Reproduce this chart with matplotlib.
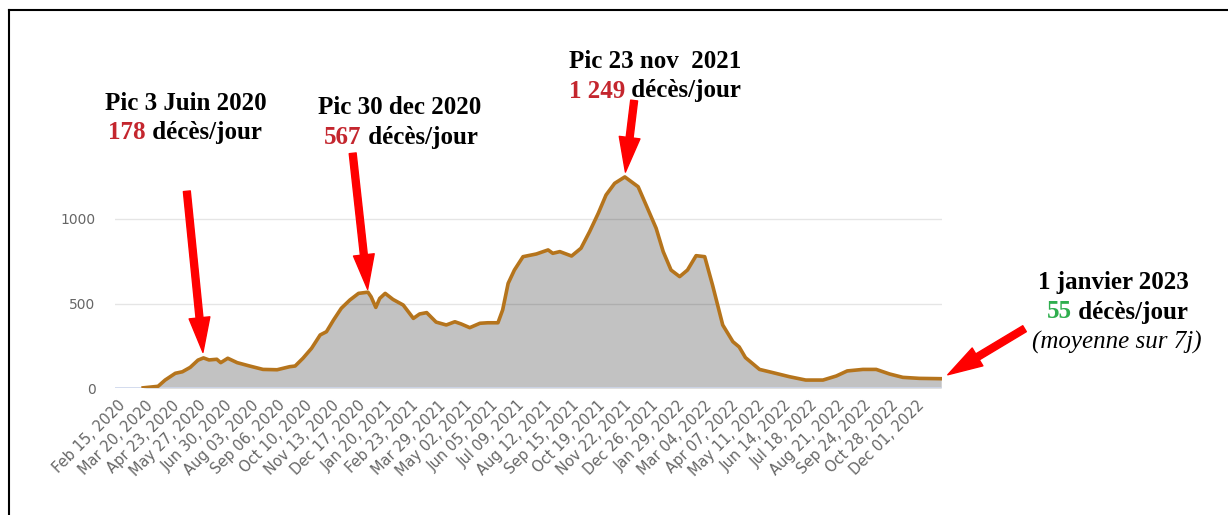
import matplotlib
matplotlib.use("Agg")
import matplotlib.pyplot as plt
from matplotlib.lines import Line2D
import pandas as pd

# 7-day average of daily deaths
dates = [
    "2020-03-18", "2020-04-06", "2020-04-15", "2020-04-28", "2020-05-07",
    "2020-05-17", "2020-05-27", "2020-06-03", "2020-06-10", "2020-06-20", "2020-06-25",
    "2020-07-04", "2020-07-16", "2020-08-01", "2020-08-18", "2020-09-05", "2020-09-21",
    "2020-09-28", "2020-10-08", "2020-10-19", "2020-10-30", "2020-11-07", "2020-11-16",
    "2020-11-26", "2020-12-07", "2020-12-18", "2020-12-30", "2021-01-03", "2021-01-09",
    "2021-01-14", "2021-01-21", "2021-01-31", "2021-02-13", "2021-02-26", "2021-03-06",
    "2021-03-15", "2021-03-27", "2021-04-09", "2021-04-20", "2021-04-28", "2021-05-09",
    "2021-05-22", "2021-06-01", "2021-06-14", "2021-06-20", "2021-06-27", "2021-07-05",
    "2021-07-16", "2021-08-02", "2021-08-17", "2021-08-23", "2021-09-01", "2021-09-16",
    "2021-09-28", "2021-10-09", "2021-10-20", "2021-10-30", "2021-11-10", "2021-11-23",
    "2021-12-10", "2021-12-22", "2022-01-02", "2022-01-11", "2022-01-21", "2022-02-01",
    "2022-02-11", "2022-02-22", "2022-03-05", "2022-03-15", "2022-03-28", "2022-04-10",
    "2022-04-18", "2022-04-26", "2022-05-14", "2022-05-31", "2022-06-21", "2022-07-12",
    "2022-08-03", "2022-08-20", "2022-09-03", "2022-09-23", "2022-10-10", "2022-10-27",
    "2022-11-13", "2022-12-04", "2023-01-01",
]
deaths_7j = [
    1, 10, 47, 87, 96,
    122, 165, 178, 166, 170, 150,
    176, 150, 130, 110, 108, 126,
    130, 176, 235, 314, 333, 402,
    472, 521, 560, 567, 540, 477,
    530, 560, 524, 491, 412, 438,
    446, 390, 373, 392, 379, 357,
    383, 386, 386, 462, 619, 698,
    777, 793, 817, 797, 807, 781,
    827, 925, 1033, 1142, 1211, 1249,
    1191, 1063, 945, 807, 698, 659,
    698, 783, 777, 609, 373, 274,
    243, 180, 110, 91, 67, 47,
    47, 71, 101, 110, 110, 83,
    63, 57, 55,
]

tick_start = "2020-02-15"
n_ticks = 31
tick_step = "34D"

# annotations: (date, value, title, number, number colour)
peak_dates = ["2020-06-03", "2020-12-30", "2021-11-23", "2023-01-01"]
peak_values = [178, 567, 1249, 55]
titles = ["Pic 3 Juin 2020", "Pic 30 dec 2020", "Pic 23 nov  2021", "1 janvier 2023"]
numbers = ["178", "567", "1 249", "55"]
number_colors = ["#c4262e", "#c4262e", "#c4262e", "#2fae4e"]

W, H = 1228, 515
fig = plt.figure(figsize=(W / 100, H / 100), dpi=100)
ax = fig.add_axes([115 / W, 127 / H, 827 / W, 236.6 / H])

x = pd.to_datetime(dates)
ax.fill_between(x, deaths_7j, 0, color="#c2c2c2", lw=0, zorder=1)
ax.plot(x, deaths_7j, color="#b5741c", lw=2.6, zorder=4, solid_joinstyle="round")

for v in [500, 1000]:
    ax.axhline(v, color="black", alpha=0.1, lw=1, zorder=3)
ax.axhline(0, color="#ccd6eb", lw=1.2, zorder=3)

ax.set_xlim(pd.Timestamp("2020-02-11"), pd.Timestamp("2023-01-02"))
ax.set_ylim(0, 1400)
for s in ax.spines.values():
    s.set_visible(False)

ax.set_yticks([0, 500, 1000])
ax.tick_params(axis="y", length=0, pad=14, labelcolor="#666666", labelsize=10)

ticks = pd.date_range(tick_start, periods=n_ticks, freq=tick_step)
ax.set_xticks(ticks)
ax.set_xticklabels([t.strftime("%b %d, %Y") for t in ticks])
ax.tick_params(axis="x", length=0, pad=7, labelcolor="#666666", labelsize=10.5)
for lab in ax.get_xticklabels():
    lab.set_rotation(45)
    lab.set_ha("right")
    lab.set_rotation_mode("anchor")

# red arrows, tail offset in points from the annotated point
tail_offsets = [(-12, 120), (-11, 100), (6.7, 55), (60, 36)]
shrinks = [4, 2, 3.5, 5.5]
for d, v, off, sh in zip(peak_dates, peak_values, tail_offsets, shrinks):
    ax.annotate("", xy=(pd.Timestamp(d), v), xytext=off, textcoords="offset points",
                annotation_clip=False,
                arrowprops=dict(arrowstyle="simple,head_length=2.5,head_width=1.5,tail_width=0.5",
                                color="#ff0000", shrinkA=0, shrinkB=sh, mutation_scale=10))

serif = dict(family="Liberation Serif", fontsize=18, fontweight="bold")
renderer = fig.canvas.get_renderer()


def two_tone(cx, cy, first, rest, c1):
    t1 = fig.text(0, 0, first, color=c1, va="center", ha="left", **serif)
    t2 = fig.text(0, 0, rest, color="black", va="center", ha="left", **serif)
    w1 = t1.get_window_extent(renderer).width
    w2 = t2.get_window_extent(renderer).width
    left = cx - (w1 + w2) / 2
    t1.set_position((left / W, 1 - cy / H))
    t2.set_position(((left + w1) / W, 1 - cy / H))


title_pos = [(186, 104), (400, 108), (655, 62), (1113, 283)]
line2_pos = [(185, 133), (401, 137), (655, 91), (1117, 312)]
for (tx, ty), (nx, ny), tt, num, col in zip(title_pos, line2_pos, titles, numbers, number_colors):
    fig.text(tx / W, 1 - ty / H, tt, ha="center", va="center", color="black", **serif)
    two_tone(nx, ny, num, " décès/jour", col)

fig.text(1117 / W, 1 - 342 / H, "(moyenne sur 7j)", ha="center", va="center",
         family="Liberation Serif", fontsize=18, fontstyle="italic", color="black")

# page frame
fig.add_artist(Line2D([9 / W, 1], [1 - 10 / H] * 2, color="black", lw=1.5, transform=fig.transFigure))
fig.add_artist(Line2D([9 / W] * 2, [0, 1 - 10 / H], color="black", lw=1.5, transform=fig.transFigure))

fig.savefig("out.png", dpi=100)
